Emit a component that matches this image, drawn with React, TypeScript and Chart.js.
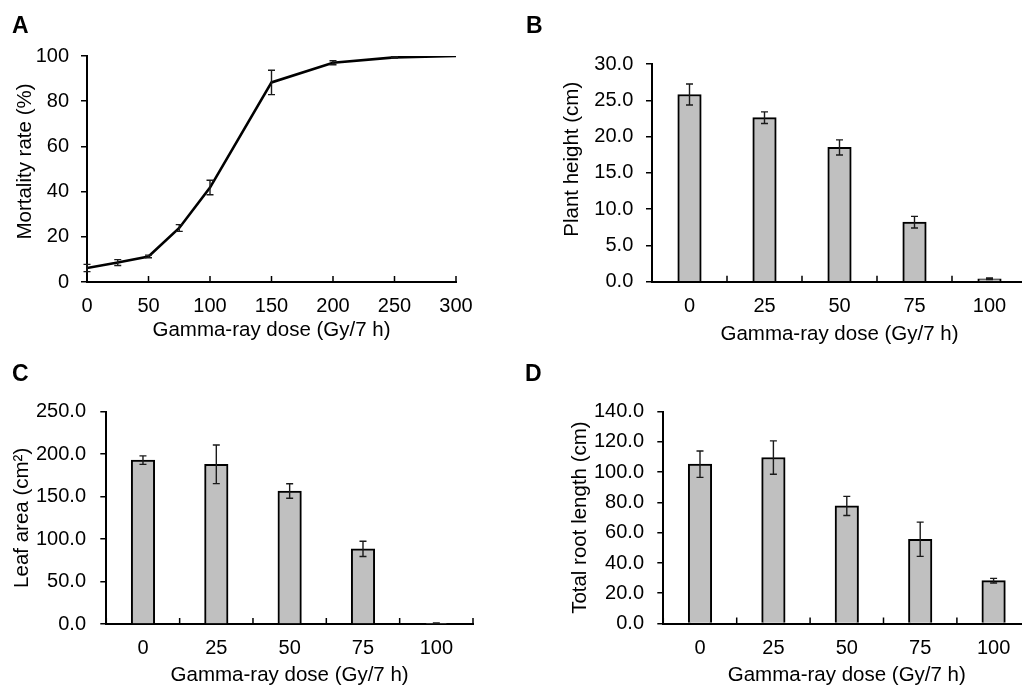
import React, { useEffect, useRef } from 'react';
import { Chart, registerables } from 'chart.js';

Chart.register(...registerables);

// ---------- data ----------
const doseA = [0, 25, 50, 75, 100, 150, 200, 250, 300];
const mortality = [6.2, 8.6, 11.3, 23.9, 41.8, 88.3, 97.0, 99.4, 100];
const mortalityErr = [1.6, 1.3, 0.6, 1.5, 3.2, 5.4, 0.9, 0.3, 0];
const doseTicksA = [0, 50, 100, 150, 200, 250, 300];
const mortalityTicks = [0, 20, 40, 60, 80, 100];

const doseCats = ['0', '25', '50', '75', '100'];

const plantHeight = [25.8, 22.6, 18.5, 8.2, 0.4];
const plantHeightErr = [1.45, 0.8, 1.05, 0.8, 0.1];
const plantHeightTicks = [0, 5, 10, 15, 20, 25, 30];

const leafArea = [193, 188, 156.6, 88.5, 0.8];
const leafAreaErr = [5, 22.7, 8.5, 9, 0.3];
const leafAreaTicks = [0, 50, 100, 150, 200, 250];

const rootLength = [105.3, 109.7, 77.7, 55.7, 28.3];
const rootLengthErr = [8.7, 11, 6.3, 11.3, 1.5];
const rootLengthTicks = [0, 20, 40, 60, 80, 100, 120, 140];

const xTitle = 'Gamma-ray dose (Gy/7 h)';

// ---------- styling / layout ----------
const FONT = "'Liberation Sans', Arial, sans-serif";
const TICK_FONT = { family: FONT, size: 20 };
const TITLE_SIZE = 20.5;

const errorBarPlugin = {
  id: 'errorBars',
  afterDatasetsDraw(chart: any) {
    const { ctx } = chart;
    const yScale = chart.scales.y;
    chart.data.datasets.forEach((ds: any, di: number) => {
      const errs = ds.errors;
      if (!errs) return;
      const meta = chart.getDatasetMeta(di);
      meta.data.forEach((el: any, i: number) => {
        const e = errs[i];
        if (!e) return;
        const v = ds.data[i];
        const val = typeof v === 'number' ? v : v.y;
        const x = el.x;
        const yTop = yScale.getPixelForValue(val + e);
        const yBot = yScale.getPixelForValue(Math.max(0, val - e));
        ctx.save();
        ctx.strokeStyle = '#1a1a1a';
        ctx.lineWidth = 1.4;
        ctx.beginPath();
        ctx.moveTo(x, yTop);
        ctx.lineTo(x, yBot);
        ctx.moveTo(x - 3.5, yTop);
        ctx.lineTo(x + 3.5, yTop);
        ctx.moveTo(x - 3.5, yBot);
        ctx.lineTo(x + 3.5, yBot);
        ctx.stroke();
        ctx.restore();
      });
    });
  },
};

const innerTickPlugin = {
  id: 'innerTicks',
  afterDraw(chart: any) {
    const s: any = chart.scales.x;
    const { ctx } = chart;
    const bottom = chart.chartArea.bottom;
    let px: number[] = [];
    if (s.type === 'category') {
      const n = s.getLabels().length;
      for (let i = 0; i <= n; i++) px.push(s.getPixelForValue(i - 0.5));
    } else {
      px = s.ticks.map((t: any) => s.getPixelForValue(t.value));
    }
    ctx.save();
    ctx.strokeStyle = '#000';
    ctx.lineWidth = 1.5;
    ctx.beginPath();
    px.forEach((p) => {
      ctx.moveTo(p, bottom);
      ctx.lineTo(p, bottom - 6);
    });
    ctx.stroke();
    ctx.restore();
  },
};

const yTitlePlugin = {
  id: 'yTitle',
  afterDraw(chart: any, _args: any, opts: any) {
    if (!opts || !opts.text) return;
    const { ctx, chartArea } = chart;
    ctx.save();
    ctx.translate(opts.x, (chartArea.top + chartArea.bottom) / 2 + (opts.dy || 0));
    ctx.rotate(-Math.PI / 2);
    ctx.font = `${TITLE_SIZE}px ${FONT}`;
    ctx.fillStyle = '#000';
    ctx.textAlign = 'center';
    ctx.textBaseline = 'middle';
    ctx.fillText(opts.text, 0, 0);
    ctx.restore();
  },
};

type PanelCfg = {
  key: string;
  letter: string;
  canvas: { left: number; top: number; w: number; h: number };
  plot: { left: number; top: number; right: number; bottom: number };
  yTitle: string;
  yTitleX: number; // absolute page x of title center
  yTitleDy: number;
  xTitleMid: number; // absolute page y of x title middle
  yTickPad: number;
  letterPos: { left: number; top: number };
  kind: 'line' | 'bar';
};

const panels: PanelCfg[] = [
  {
    key: 'A', letter: 'A', kind: 'line',
    canvas: { left: 0, top: 0, w: 511, h: 345 },
    plot: { left: 87, top: 56, right: 456, bottom: 282 },
    yTitle: 'Mortality rate (%)', yTitleX: 25, yTitleDy: -7.5, xTitleMid: 330, yTickPad: 12,
    letterPos: { left: 12, top: 14 },
  },
  {
    key: 'B', letter: 'B', kind: 'bar',
    canvas: { left: 511, top: 0, w: 530, h: 345 },
    plot: { left: 652, top: 64, right: 1027, bottom: 281.7 },
    yTitle: 'Plant height (cm)', yTitleX: 572.5, yTitleDy: -13.6, xTitleMid: 334, yTickPad: 12.7,
    letterPos: { left: 526, top: 14 },
  },
  {
    key: 'C', letter: 'C', kind: 'bar',
    canvas: { left: 0, top: 345, w: 511, h: 344 },
    plot: { left: 106.3, top: 411.7, right: 473, bottom: 624 },
    yTitle: 'Leaf area (cm²)', yTitleX: 22.5, yTitleDy: 0, xTitleMid: 675.7, yTickPad: 14.3,
    letterPos: { left: 12, top: 362 },
  },
  {
    key: 'D', letter: 'D', kind: 'bar',
    canvas: { left: 511, top: 345, w: 530, h: 344 },
    plot: { left: 663.3, top: 411.7, right: 1030.3, bottom: 623.5 },
    yTitle: 'Total root length (cm)', yTitleX: 580, yTitleDy: 0, xTitleMid: 675.7, yTickPad: 13.3,
    letterPos: { left: 525, top: 362 },
  },
];

const barData: Record<string, { values: number[]; errs: number[]; ticks: number[] }> = {
  B: { values: plantHeight, errs: plantHeightErr, ticks: plantHeightTicks },
  C: { values: leafArea, errs: leafAreaErr, ticks: leafAreaTicks },
  D: { values: rootLength, errs: rootLengthErr, ticks: rootLengthTicks },
};

function buildConfig(p: PanelCfg): any {
  const { canvas, plot } = p;
  const yWidth = plot.left - canvas.left;
  const xHeight = canvas.top + canvas.h - plot.bottom;
  const titleLH = TITLE_SIZE * 1.2;
  const titleBottomPad = canvas.top + canvas.h - p.xTitleMid - titleLH / 2;

  const axisBorder = { display: true, color: '#000', width: 2 };
  const xScaleCommon = {
    grid: { display: false, drawTicks: false },
    border: axisBorder,
    ticks: { font: TICK_FONT, color: '#000', padding: 12.5, maxRotation: 0, autoSkip: false },
    title: {
      display: true,
      text: xTitle,
      color: '#000',
      font: { family: FONT, size: TITLE_SIZE },
      padding: { top: 0, bottom: titleBottomPad },
    },
    afterFit: (s: any) => { s.height = xHeight; },
  };
  const yTickVals = p.kind === 'line' ? mortalityTicks : barData[p.key].ticks;
  const yScale = {
    min: yTickVals[0],
    max: yTickVals[yTickVals.length - 1],
    afterBuildTicks: (s: any) => { s.ticks = yTickVals.map((v) => ({ value: v })); },
    grid: { drawOnChartArea: false, drawTicks: true, tickLength: 6, color: '#000', lineWidth: 1.5 },
    border: axisBorder,
    ticks: {
      font: TICK_FONT,
      color: '#000',
      padding: p.yTickPad,
      callback: (v: any) => (p.kind === 'line' ? String(v) : Number(v).toFixed(1)),
    },
    afterFit: (s: any) => { s.width = yWidth; },
  };

  const common = {
    responsive: false,
    animation: false,
    devicePixelRatio: 1,
    events: [],
    layout: {
      padding: {
        top: plot.top - canvas.top,
        right: canvas.left + canvas.w - plot.right,
        bottom: 0,
        left: 0,
      },
    },
    plugins: {
      legend: { display: false },
      tooltip: { enabled: false },
      yTitle: { text: p.yTitle, x: p.yTitleX - canvas.left, dy: p.yTitleDy },
    },
  };

  if (p.kind === 'line') {
    return {
      type: 'line',
      data: {
        datasets: [
          {
            data: doseA.map((x, i) => ({ x, y: mortality[i] })),
            errors: mortalityErr,
            borderColor: '#000',
            borderWidth: 2.6,
            pointRadius: 0,
            tension: 0,
            fill: false,
          },
        ],
      },
      options: {
        ...common,
        scales: {
          x: {
            ...xScaleCommon,
            type: 'linear',
            min: doseTicksA[0],
            max: doseTicksA[doseTicksA.length - 1],
            afterBuildTicks: (s: any) => { s.ticks = doseTicksA.map((v) => ({ value: v })); },
          },
          y: yScale,
        },
      },
      plugins: [errorBarPlugin, innerTickPlugin, yTitlePlugin],
    };
  }
  const d = barData[p.key];
  return {
    type: 'bar',
    data: {
      labels: doseCats,
      datasets: [
        {
          data: d.values,
          errors: d.errs,
          backgroundColor: '#c0c0c0',
          borderColor: '#000',
          borderWidth: 2,
          barThickness: 23.5,
        },
      ],
    },
    options: {
      ...common,
      scales: {
        x: { ...xScaleCommon, type: 'category', offset: true },
        y: yScale,
      },
    },
    plugins: [errorBarPlugin, innerTickPlugin, yTitlePlugin],
  };
}

function Panel({ p }: { p: PanelCfg }) {
  const ref = useRef<HTMLCanvasElement>(null);
  useEffect(() => {
    const chart = new Chart(ref.current as HTMLCanvasElement, buildConfig(p));
    return () => chart.destroy();
  }, []);
  return (
    <>
      <canvas
        ref={ref}
        width={p.canvas.w}
        height={p.canvas.h}
        style={{
          position: 'absolute',
          left: p.canvas.left,
          top: p.canvas.top,
          width: p.canvas.w,
          height: p.canvas.h,
          display: 'block',
        }}
      />
      <div
        style={{
          position: 'absolute',
          left: p.letterPos.left,
          top: p.letterPos.top,
          fontFamily: FONT,
          fontWeight: 'bold',
          fontSize: 23,
          lineHeight: '23px',
          color: '#000',
        }}
      >
        {p.letter}
      </div>
    </>
  );
}

export default function App() {
  return (
    <div
      style={{
        position: 'fixed',
        left: 0,
        top: 0,
        width: 1022,
        height: 689,
        overflow: 'hidden',
        background: '#fff',
      }}
    >
      {panels.map((p) => (
        <Panel key={p.key} p={p} />
      ))}
    </div>
  );
}
